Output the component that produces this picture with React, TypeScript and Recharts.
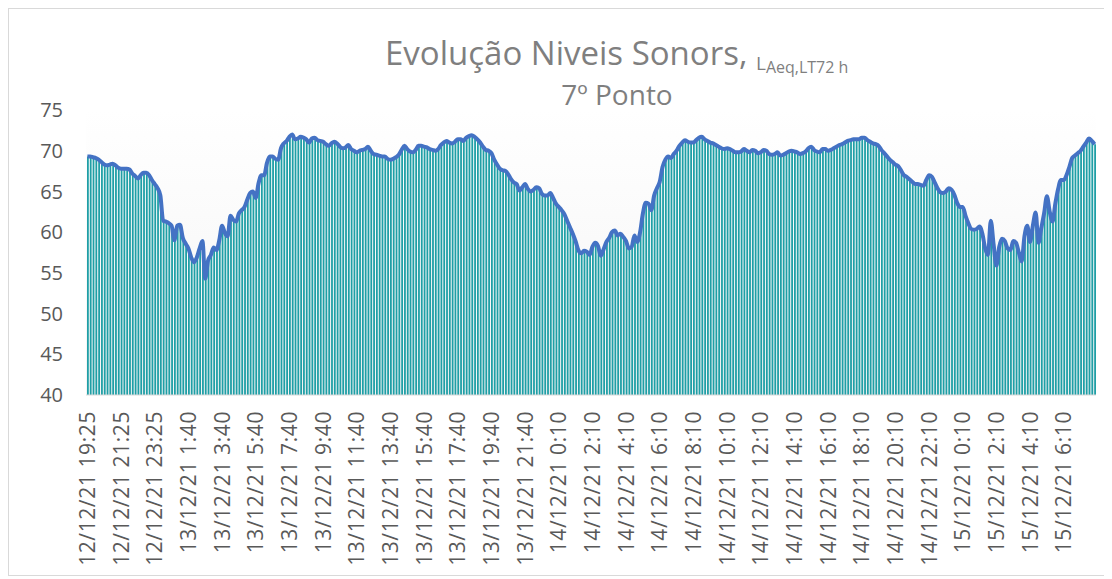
import { Bar, CartesianGrid, ComposedChart, Line, XAxis, YAxis } from "recharts";

// x tick labels, one every 12 readings (10-minute intervals)
const tickLabels = [
  "12/12/21 19:25", "12/12/21 21:25", "12/12/21 23:25",
  "13/12/21 1:40", "13/12/21 3:40", "13/12/21 5:40", "13/12/21 7:40",
  "13/12/21 9:40", "13/12/21 11:40", "13/12/21 13:40", "13/12/21 15:40",
  "13/12/21 17:40", "13/12/21 19:40", "13/12/21 21:40",
  "14/12/21 0:10", "14/12/21 2:10", "14/12/21 4:10", "14/12/21 6:10",
  "14/12/21 8:10", "14/12/21 10:10", "14/12/21 12:10", "14/12/21 14:10",
  "14/12/21 16:10", "14/12/21 18:10", "14/12/21 20:10", "14/12/21 22:10",
  "15/12/21 0:10", "15/12/21 2:10", "15/12/21 4:10", "15/12/21 6:10",
];

// LAeq readings, dB(A)
const nightOne = [
  69.3, 69.3, 69.2, 69.1, 68.9, 68.6, 68.3, 68.2, 68.3, 68.4, 68.2, 67.9, 67.8,
  67.8, 67.8, 67.7, 67.2, 66.9, 66.6, 67.0, 67.3, 67.3, 67.0, 66.4, 65.9, 65.4,
  64.5, 61.4, 61.3, 61.1, 60.8, 59.0, 60.8, 60.9, 59.3, 58.6, 58.0, 56.9, 56.3,
  56.9, 58.0, 58.9, 54.3, 56.5, 57.2, 58.1, 57.8, 59.0, 60.8, 59.9, 59.5, 62.0,
  61.5, 61.3, 62.3, 62.7, 63.1, 64.0, 64.8,
];
const dayOneMorning = [
  65.0, 64.2, 66.0, 67.0, 67.0, 68.5, 69.3, 69.3, 69.0, 68.9, 70.3, 70.9, 71.2,
  71.7, 72.0, 71.4, 71.5, 71.7, 71.6, 71.4, 71.0, 71.5, 71.6, 71.3, 71.2, 71.1,
  70.8, 70.6, 70.9, 71.1, 70.9, 70.5, 70.3, 70.4, 70.7, 70.2, 70.0, 69.8, 70.0,
  70.1, 70.2, 70.5, 70.0, 69.6, 69.5, 69.4, 69.3, 69.3, 69.0, 68.9, 69.0, 69.2,
  69.5, 70.1, 70.6, 70.2, 69.9, 69.8, 70.1, 70.6,
];
const dayOneEvening = [
  70.6, 70.5, 70.4, 70.2, 70.1, 70.0, 70.2, 70.7, 71.0, 71.2, 71.0, 70.9, 71.1,
  71.4, 71.4, 71.2, 71.6, 71.8, 71.9, 71.7, 71.4, 71.0, 70.5, 70.1, 70.0, 69.7,
  68.9, 68.3, 67.8, 67.6, 67.5, 67.1, 66.5, 66.1, 65.9, 65.1, 65.5, 65.9, 65.3,
  65.0, 65.2, 65.5, 65.4, 64.7, 64.5, 64.5, 64.8, 64.2, 63.5, 63.1, 62.7, 62.2,
  61.4, 60.6, 59.8, 58.9, 57.8, 57.4, 57.7, 57.6,
];
const nightTwo = [
  57.2, 58.2, 58.7, 58.3, 57.1, 57.9, 58.8, 59.3, 60.0, 60.2, 59.6, 59.8, 59.4,
  58.9, 58.0, 58.2, 59.6, 58.8, 60.0, 62.3, 63.6, 63.5, 62.7, 64.5, 65.4, 66.2,
  68.0, 68.9, 69.3, 69.1, 69.6, 70.0, 70.6, 71.0, 71.3, 71.1, 71.0, 71.0, 71.3,
  71.6, 71.7, 71.4, 71.2, 71.0, 70.9, 70.7, 70.5, 70.3, 70.2, 70.3, 70.2, 70.0,
  69.8, 69.8, 69.9, 70.2, 70.0, 69.8, 70.1, 70.0, 69.7,
];
const dayTwo = [
  69.8, 70.1, 70.0, 69.6, 69.5, 69.6, 69.8, 69.4, 69.5, 69.7, 69.9, 70.0, 69.9,
  69.8, 69.6, 69.7, 69.9, 70.3, 70.5, 70.1, 69.9, 69.8, 70.2, 70.2, 70.0, 70.1,
  70.3, 70.5, 70.7, 70.8, 71.0, 71.2, 71.3, 71.4, 71.4, 71.4, 71.6, 71.6, 71.3,
  71.1, 70.9, 70.8, 70.6, 70.1, 69.7, 69.3, 68.9, 68.6, 68.3, 68.1, 67.6, 67.0,
  66.8, 66.5, 66.2, 65.9, 65.9, 65.8, 65.7, 66.4,
];
const nightThree = [
  67.0, 66.8, 66.1, 65.4, 64.9, 64.8, 65.0, 65.4, 65.2, 64.6, 63.6, 63.1, 63.1,
  62.0, 61.1, 60.4, 60.3, 60.4, 60.7, 59.8, 58.0, 57.2, 61.4, 58.5, 55.9, 58.2,
  59.2, 58.9, 58.0, 57.8, 58.9, 58.7, 57.5, 56.4, 59.5, 60.8, 58.8, 60.8, 62.4,
  58.7, 60.5, 62.3, 64.4, 62.5, 61.3, 63.5, 65.3, 66.4, 66.4, 67.0, 68.0, 69.1,
  69.4, 69.7, 70.0, 70.5, 71.0, 71.5, 71.2, 70.8,
];

const yTicks = [40, 45, 50, 55, 60, 65, 70, 75];

const levels = [
  ...nightOne,
  ...dayOneMorning,
  ...dayOneEvening,
  ...nightTwo,
  ...dayTwo,
  ...nightThree,
];
const data = levels.map((v, i) => ({ i, v }));

const FONT = "'Open Sans', sans-serif";

function DateTick({ x, y, payload }: any) {
  const label = tickLabels[Math.round(payload.value / 12)];
  return (
    <text
      transform={`translate(${x},${y}) rotate(-90)`}
      textAnchor="end"
      dy="0.36em"
      fontSize={21}
      letterSpacing={0.6}
      fontFamily={FONT}
      fill="#595959"
    >
      {label}
    </text>
  );
}

export default function App() {
  return (
    <div
      style={{
        position: "relative",
        width: 1098,
        height: 566,
        border: "1px solid #d9d9d9",
        background: "#fff",
        fontFamily: FONT,
      }}
    >
      <svg
        width={1098}
        height={120}
        style={{ position: "absolute", left: 0, top: 0, pointerEvents: "none" }}
      >
        <text x={376} y={56} fontSize={33} fill="#7f7f7f" fontFamily={FONT}>
          Evolução Niveis Sonors,{" "}
          <tspan fontSize={19} dy={5}>
            L
          </tspan>
          <tspan fontSize={16} dy={3}>
            Aeq,LT72 h
          </tspan>
        </text>
        <text
          x={608}
          y={96}
          fontSize={28}
          fill="#7f7f7f"
          textAnchor="middle"
          fontFamily={FONT}
        >
          7º Ponto
        </text>
      </svg>
      <ComposedChart
        width={1098}
        height={566}
        data={data}
        margin={{ top: 101, right: 11, bottom: 0, left: 0 }}
      >
        <defs>
          <linearGradient id="plotBg" x1="0" y1="0" x2="0" y2="1">
            <stop offset="0%" stopColor="#ffffff" />
            <stop offset="100%" stopColor="#f4f4f4" />
          </linearGradient>
        </defs>
        <CartesianGrid horizontal={false} vertical={false} fill="url(#plotBg)" />
        <XAxis
          dataKey="i"
          interval={11}
          height={180}
          tickLine={false}
          tickSize={0}
          tickMargin={16}
          axisLine={{ stroke: "#d9d9d9" }}
          tick={<DateTick />}
        />
        <YAxis
          domain={[40, 75]}
          ticks={yTicks}
          width={77}
          axisLine={false}
          tickLine={false}
          tickSize={0}
          tickMargin={23}
          tick={{ fontSize: 20, fill: "#595959", fontFamily: FONT }}
        />
        <Bar
          dataKey="v"
          fill="#1f9fa6"
          barSize={1.8}
          isAnimationActive={false}
        />
        <Line
          dataKey="v"
          type="monotone"
          stroke="#4472c4"
          strokeWidth={4}
          dot={false}
          activeDot={false}
          isAnimationActive={false}
        />
      </ComposedChart>
    </div>
  );
}
